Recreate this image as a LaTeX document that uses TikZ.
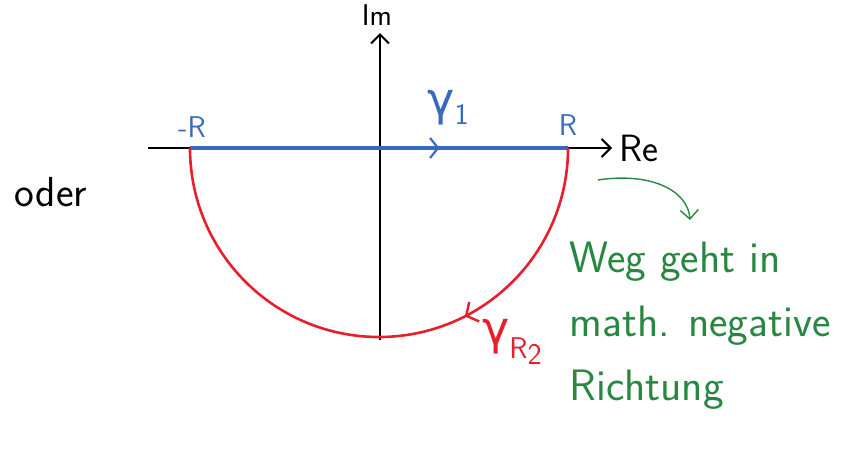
\documentclass[tikz,border=0pt]{standalone}
\usepackage{amsmath, amssymb}
\usepackage{fontspec}
\usepackage{tikz}
\usetikzlibrary{positioning, arrows.meta, decorations.markings}
\usepackage{xcolor}

\newfontfamily\greekfont{DejaVu Sans}

\definecolor{pathblue}{RGB}{55,105,190}
\definecolor{pathred}{RGB}{232,30,45}
\definecolor{notegreen}{RGB}{40,135,65}

\newcommand{\bigsize}[1]{\sffamily\fontsize{#1}{#1}\selectfont}
\newcommand{\lowsub}[2]{\raisebox{#1}{\sffamily\fontsize{30}{30}\selectfont #2}}

\begin{document}
\begin{tikzpicture}[x=1pt, y=-1pt, >={Straight Barb[length=9pt, width=18pt]}, font=\sffamily]

    \useasboundingbox (0,0) rectangle (841,448);

    % Axes
    \coordinate (O) at (380,148);
    \coordinate (xl) at (148,148);
    \coordinate (xr) at (612,148);
    \coordinate (yb) at (380,340);
    \coordinate (yt) at (380,33);
    \draw[->, line width=2pt] (xl) -- (xr);
    \draw[->, line width=2pt] (yb) -- (yt);
    \node[right=4pt of xr, font=\bigsize{38}] (re) {Re};
    \node[font=\bigsize{30}] at (377,15) (im) {Im};

    % Path gamma_1
    \coordinate (mR) at (190,148);
    \coordinate (pR) at (568,148);
    \draw[pathblue, line width=3.4pt, postaction={decorate, decoration={markings,
        mark=at position 0.66 with {\arrow[line width=2.2pt]{Straight Barb[length=8pt, width=20pt]}}}}]
        (mR) -- (pR);
    \node[pathblue, font=\bigsize{30}] at (192,127) (mRlabel) {-R};
    \node[pathblue, font=\bigsize{30}] at (568,125) (pRlabel) {R};
    \node[pathblue] at (448,108) (g1)
        {\greekfont\fontsize{46}{46}\selectfont γ\lowsub{-9pt}{1}};

    % Path gamma_R2
    \draw[pathred, line width=2.6pt, postaction={decorate, decoration={markings,
        mark=at position 0.35 with {\arrow[line width=2.4pt]{Straight Barb[length=9pt, width=22pt]}}}}]
        (pR) arc[start angle=0, end angle=180, radius=189];
    \node[pathred] at (512,342) (g2)
        {\greekfont\fontsize{46}{46}\selectfont γ\lowsub{-14pt}{R\lowsub{-6pt}{2}}};

    % oder
    \node[font=\bigsize{42}] at (51,192) (oder) {oder};

    % Note
    \node[notegreen, align=left, anchor=north west, font=\sffamily\fontsize{44}{64}\selectfont]
        at (566,238) (note) {Weg geht in\\ math. negative\\ Richtung};
    \coordinate (gs) at (598,180);
    \draw[notegreen, ->, line width=1.4pt] (gs) .. controls (650,172) and (688,190) .. (690,220);

\end{tikzpicture}
\end{document}
